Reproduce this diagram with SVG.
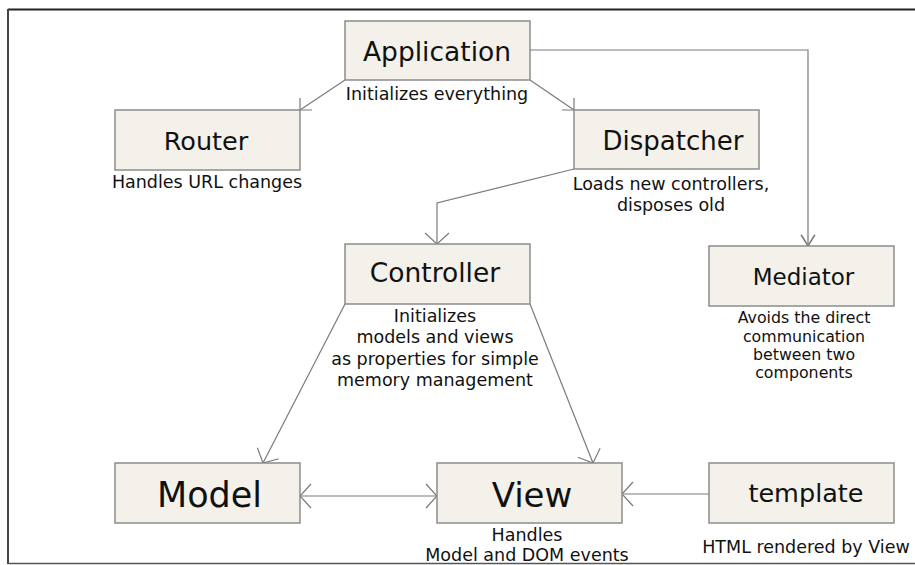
<svg xmlns="http://www.w3.org/2000/svg" width="915" height="565" viewBox="0 0 915 565">
<defs>
<style>
.box{fill:#f4f1ea;stroke:#8c8c8c;stroke-width:1.5}
.t{font-family:"DejaVu Sans",sans-serif;fill:#111;text-anchor:middle}
.s{font-family:"DejaVu Sans",sans-serif;fill:#111;text-anchor:middle;font-size:17.5px}
.m{font-family:"DejaVu Sans",sans-serif;fill:#111;text-anchor:middle;font-size:15.8px}
.c{fill:none;stroke:#7a7a7a;stroke-width:1.2}
</style>
<marker id="ah" markerUnits="userSpaceOnUse" markerWidth="30" markerHeight="30" viewBox="-20 -15 25 30" refX="0" refY="0" orient="auto">
<path d="M-11,-12 L0,0 L-11,12" fill="none" stroke="#7a7a7a" stroke-width="1.2"/>
</marker>
<marker id="ahs" markerUnits="userSpaceOnUse" markerWidth="20" markerHeight="20" viewBox="-12 -8 14 16" refX="0" refY="0" orient="auto">
<path d="M-9,-5.5 L0,0 L-9,5.5" fill="none" stroke="#7a7a7a" stroke-width="1.2"/>
</marker>
<marker id="ahr" markerUnits="userSpaceOnUse" markerWidth="30" markerHeight="30" viewBox="-5 -15 25 30" refX="0" refY="0" orient="auto">
<path d="M11,-12 L0,0 L11,12" fill="none" stroke="#7a7a7a" stroke-width="1.2"/>
</marker>
</defs>
<rect width="915" height="565" fill="#fff"/>
<g id="frame">
<path d="M8,9.5 H915" stroke="#222" stroke-width="2" fill="none"/>
<path d="M8,9 V564" stroke="#444" stroke-width="2" fill="none"/>
<path d="M8,563.5 H915" stroke="#555" stroke-width="1.5" fill="none"/>
</g>
<g id="connectors">
<path class="c" d="M345,80 L300,110"/>
<path class="c" d="M300,98 V110 H312"/>
<path class="c" d="M530,80 L574,110"/>
<path class="c" d="M574,98 V110 H562"/>
<path class="c" d="M530,50 H808 V246" marker-end="url(#ahs)"/>
<path class="c" d="M574,169 L437,203 V244" marker-end="url(#ah)"/>
<path class="c" d="M345,304 L263,463" marker-end="url(#ah)"/>
<path class="c" d="M530,304 L593,463" marker-end="url(#ah)"/>
<path class="c" d="M300,496 H437" marker-start="url(#ahr)" marker-end="url(#ah)"/>
<path class="c" d="M709,494 H622" marker-end="url(#ah)"/>
</g>
<g id="application">
<rect class="box" x="345" y="21" width="185" height="59"/>
<text class="t" x="437" y="61" font-size="26.5">Application</text>
<text class="s" x="437" y="100">Initializes everything</text>
</g>
<g id="router">
<rect class="box" x="115" y="110" width="185" height="60"/>
<text class="t" x="206" y="150" font-size="25.5">Router</text>
<text class="s" x="207" y="188">Handles URL changes</text>
</g>
<g id="dispatcher">
<rect class="box" x="574" y="110" width="185" height="59"/>
<text class="t" x="673" y="150" font-size="26">Dispatcher</text>
<text class="s" x="671" y="190">Loads new controllers,</text>
<text class="s" x="671" y="211">disposes old</text>
</g>
<g id="controller">
<rect class="box" x="345" y="244" width="185" height="60"/>
<text class="t" x="435" y="282" font-size="26.5">Controller</text>
<text class="s" x="435" y="322">Initializes</text>
<text class="s" x="435" y="343">models and views</text>
<text class="s" x="435" y="365">as properties for simple</text>
<text class="s" x="435" y="386">memory management</text>
</g>
<g id="mediator">
<rect class="box" x="709" y="246" width="185" height="60"/>
<text class="t" x="803.5" y="285" font-size="23">Mediator</text>
<text class="m" x="804" y="323">Avoids the direct</text>
<text class="m" x="804" y="342">communication</text>
<text class="m" x="804" y="360">between two</text>
<text class="m" x="804" y="378">components</text>
</g>
<g id="model">
<rect class="box" x="115" y="463" width="185" height="60"/>
<text class="t" x="209.5" y="507" font-size="35">Model</text>
</g>
<g id="view">
<rect class="box" x="437" y="463" width="185" height="60"/>
<text class="t" x="532" y="507" font-size="34">View</text>
<text class="s" x="527" y="541">Handles</text>
<text class="s" x="527" y="561">Model and DOM events</text>
</g>
<g id="template">
<rect class="box" x="709" y="463" width="185" height="60"/>
<text class="t" x="806" y="502" font-size="25.5">template</text>
<text class="s" x="806" y="553">HTML rendered by View</text>
</g>
</svg>
